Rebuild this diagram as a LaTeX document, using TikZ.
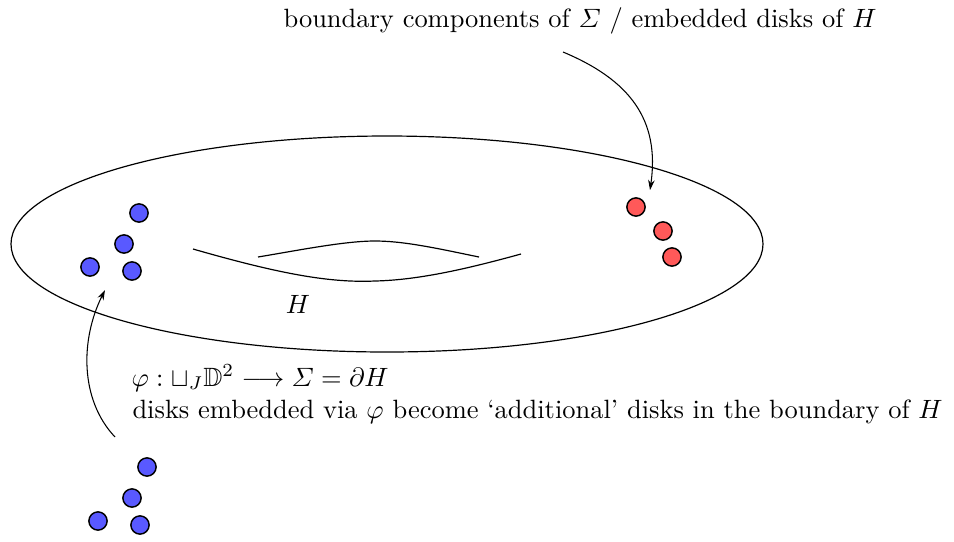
\documentclass[tikz,border=0pt]{standalone}
\usepackage{amsmath,amssymb}
\usetikzlibrary{arrows.meta}
\begin{document}
\begin{tikzpicture}[x=0.378pt,y=-0.378pt,
  bdisk/.style={circle,draw,line width=0.55pt,fill=blue!65,minimum size=6.9pt,inner sep=0pt},
  rdisk/.style={circle,draw,line width=0.55pt,fill=red!65,minimum size=6.9pt,inner sep=0pt},
  arr/.style={-{Stealth[length=3.8pt,width=2.5pt]},line width=0.4pt},
  lbl/.style={inner sep=0pt,font=\fontsize{10}{12}\selectfont}]
\useasboundingbox (0,0) rectangle (954,541);
% surface
\draw[line width=0.45pt] (387,244) ellipse [x radius=376, y radius=108];
% hole
\draw[line width=0.45pt] (193,249) .. controls (280,274) and (330,283) .. (375,281) .. controls (420,280) and (470,268) .. (521,254);
\draw[line width=0.45pt] (258,257) .. controls (300,250) and (345,241) .. (375,241) .. controls (405,241) and (440,249) .. (479,257);
% disks in surface
\node[bdisk] (b1) at (139,213) {};
\node[bdisk] (b2) at (124,244) {};
\node[bdisk] (b3) at (90,267) {};
\node[bdisk] (b4) at (132,271) {};
\node[rdisk] (r1) at (636,207) {};
\node[rdisk] (r2) at (663,231) {};
\node[rdisk] (r3) at (672,257) {};
% disks outside
\node[bdisk] (c1) at (147,467) {};
\node[bdisk] (c2) at (132,498) {};
\node[bdisk] (c3) at (98,521) {};
\node[bdisk] (c4) at (140,525) {};
% labels
\node[lbl,anchor=base] (top) at (580,27) {boundary components of $\varSigma$ / embedded disks of $H$};
\node[lbl,anchor=base] (H) at (298,313) {$H$};
\node[lbl,anchor=base west] (phi) at (131,386) {$\varphi:\sqcup_J\mathbb{D}^2\longrightarrow \varSigma=\partial H$};
\node[lbl,anchor=base west] (emb) at (132,418) {disks embedded via $\varphi$ become `additional' disks in the boundary of $H$};
% arrows
\coordinate (ts) at (563,52);
\coordinate (te) at (650,190);
\coordinate (bs) at (115,437);
\coordinate (be) at (105,290);
\draw[arr] (ts) .. controls (630,80) and (660,120) .. (te);
\draw[arr] (bs) .. controls (80,400) and (80,340) .. (be);
\end{tikzpicture}
\end{document}
